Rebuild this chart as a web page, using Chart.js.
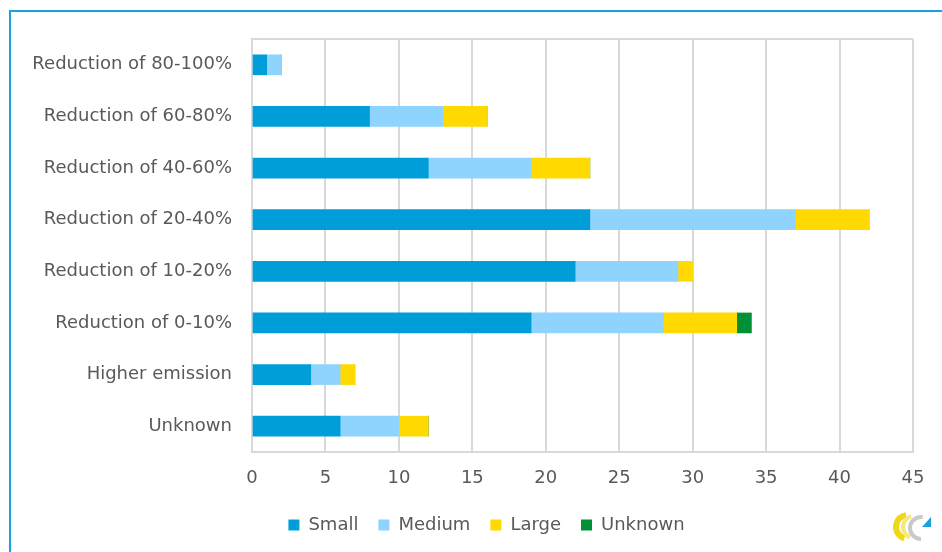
<!DOCTYPE html>
<html>
<head>
<meta charset="utf-8">
<script src="https://cdn.jsdelivr.net/npm/chart.js@4/dist/chart.umd.min.js"></script>
<style>
  html, body { margin:0; padding:0; background:#fff; }
  #wrap { position:relative; width:942px; height:552px; overflow:hidden; }
  #frameL { position:absolute; left:9px; top:10px; width:2px; height:560px; background:#1ba1db; }
  #frameT { position:absolute; left:9px; top:10px; width:960px; height:2px; background:#1ba1db; }
  canvas { position:absolute; left:0; top:0; }
</style>
</head>
<body>
<div id="wrap">
  <div id="frameL"></div>
  <div id="frameT"></div>
  <canvas id="chart" width="942" height="552"></canvas>
</div>
<script>
// --- DATA ---
const categories = [
    'Reduction of 80-100%', 'Reduction of 60-80%', 'Reduction of 40-60%', 'Reduction of 20-40%',
    'Reduction of 10-20%', 'Reduction of 0-10%', 'Higher emission', 'Unknown'
];
const small   = [1, 8, 12, 23, 22, 19, 4, 6];
const medium  = [1, 5, 7, 14, 7, 9, 2, 4];
const large   = [0, 3, 4, 5, 1, 5, 1, 2];
const unknown = [0, 0, 0, 0, 0, 1, 0, 0];
const xTicks  = [0, 5, 10, 15, 20, 25, 30, 35, 40, 45];

const FONT = "'DejaVu Sans', Verdana, sans-serif";
const TXT = '#595959';
const GRID = '#d9d9d9';

const ds = (label, data, color) => ({
    label, data, backgroundColor: color, borderWidth: 0,
    barThickness: 20
});

// nudge legend to the right (it sits centred under the plot in the original)
const legendShift = {
    id: 'legendShift',
    afterLayout(chart) {
        chart.legend.left += 30;
        chart.legend.right += 30;
    }
};

// little corner logo, bottom right
const logo = {
    id: 'logo',
    afterDraw(chart) {
        const c = chart.ctx;
        c.save();
        c.lineCap = 'butt';
        c.strokeStyle = '#f0d818';
        c.lineWidth = 6;
        c.beginPath(); c.arc(908, 527, 12, Math.PI * 0.6, Math.PI * 1.45); c.stroke();
        c.strokeStyle = '#f6e87a';
        c.lineWidth = 4;
        c.beginPath(); c.arc(914, 527, 11, Math.PI * 0.62, Math.PI * 1.42); c.stroke();
        c.strokeStyle = '#c9c9c9';
        c.lineWidth = 4;
        c.beginPath(); c.arc(921, 528, 11, Math.PI * 0.5, Math.PI * 1.55); c.stroke();
        c.fillStyle = '#1ba1db';
        c.beginPath(); c.moveTo(922, 527); c.lineTo(931, 517); c.lineTo(931, 527); c.closePath(); c.fill();
        c.restore();
    }
};

new Chart(document.getElementById('chart'), {
    type: 'bar',
    data: {
        labels: categories,
        datasets: [
            ds('Small', small, '#009ed8'),
            ds('Medium', medium, '#8fd4ff'),
            ds('Large', large, '#ffd900'),
            ds('Unknown', unknown, '#009136')
        ]
    },
    options: {
        indexAxis: 'y',
        responsive: false,
        animation: false,
        layout: { padding: { top: 39, right: 29, bottom: 8, left: 0 } },
        plugins: {
            tooltip: { enabled: false },
            legend: {
                position: 'bottom',
                labels: {
                    font: { family: FONT, size: 18 }, color: TXT,
                    boxWidth: 11, boxHeight: 11, padding: 20
                }
            }
        },
        scales: {
            x: {
                stacked: true, min: 0, max: 45,
                afterBuildTicks: (s) => { s.ticks = xTicks.map(v => ({ value: v })); },
                afterFit: (s) => { s.height = 44; },
                grid: { color: GRID, lineWidth: 2, drawTicks: false },
                border: { color: GRID, width: 2 },
                ticks: { font: { family: FONT, size: 18 }, color: TXT, padding: 16 }
            },
            y: {
                stacked: true,
                afterFit: (s) => { s.width = 252; },
                grid: {
                    lineWidth: 2, drawTicks: false,
                    color: (c) => (c.index === 0 ? GRID : 'transparent')
                },
                border: { color: GRID, width: 2 },
                ticks: { font: { family: FONT, size: 18 }, color: TXT, padding: 20 }
            }
        }
    },
    plugins: [legendShift, logo]
});
</script>
</body>
</html>
